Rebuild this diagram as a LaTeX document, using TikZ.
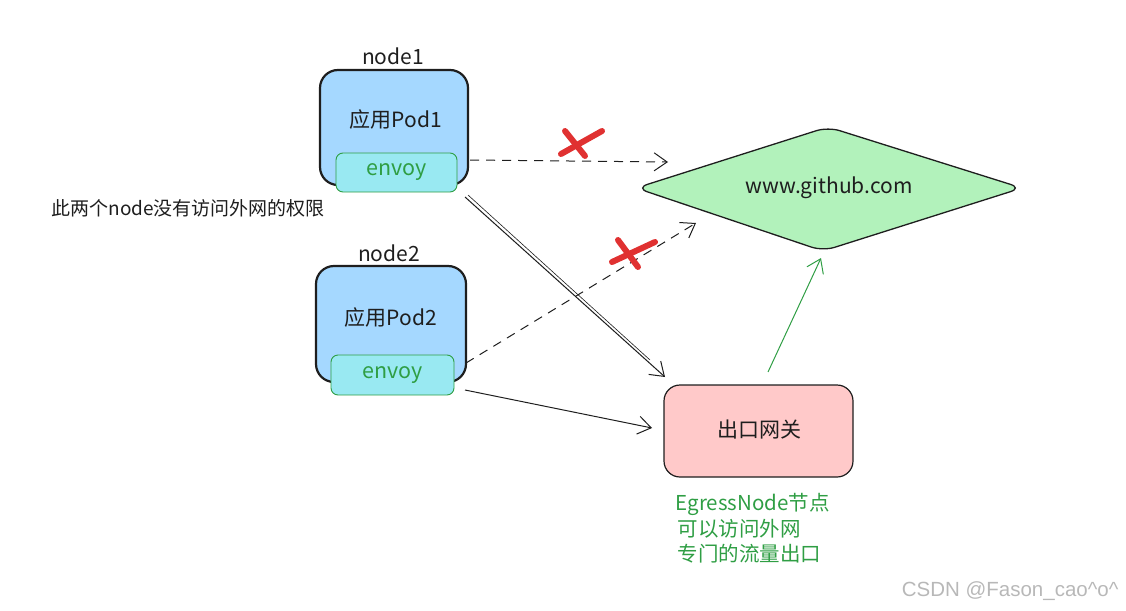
\documentclass[tikz,border=0pt]{standalone}
\usepackage{fontspec}
\setmainfont{Noto Sans CJK SC}
\newfontfamily\wmfont{Liberation Sans}
\usetikzlibrary{arrows.meta,shapes.geometric}
\definecolor{podblue}{HTML}{A5D8FF}
\definecolor{envoyfill}{HTML}{99E9F2}
\definecolor{envoygreen}{HTML}{2F9E44}
\definecolor{ghfill}{HTML}{B2F2BB}
\definecolor{gwfill}{HTML}{FFC9C9}
\definecolor{xred}{HTML}{E03131}
\definecolor{txt}{HTML}{1E1E1E}
\tikzset{
  podbox/.style={draw=txt, line width=2.2pt, fill=podblue, rounded corners=18pt},
  envoybox/.style={draw=envoygreen, line width=0.9pt, fill=envoyfill, rounded corners=7pt, text=envoygreen, font=\fontsize{21.5}{24}\selectfont},
  lbl/.style={text=txt, font=\fontsize{21}{24}\selectfont},
  conn/.style={draw=txt, line width=1pt, -{Straight Barb[length=13pt,width=18pt,line width=1pt]}},
  dconn/.style={conn, dash pattern=on 9pt off 7pt},
  xmark/.style={draw=xred, line width=6pt, line cap=round},
  gtext/.style={text=envoygreen, font=\fontsize{20.5}{24}\selectfont, anchor=west}
}
\begin{document}
\begin{tikzpicture}[x=1pt,y=-1pt]
\useasboundingbox (0,0) rectangle (1126,610);
% pods
\draw[podbox] (320,70) rectangle (468,185);
\node[lbl] (pod1) at (396,120) {应用Pod1};
\node[lbl] (n1) at (393,56) {node1};
\node[envoybox, minimum width=121pt, minimum height=39pt, inner sep=0pt] (env1) at (396.5,172.5) {envoy};

\draw[podbox] (316,266) rectangle (466,382);
\node[lbl] (pod2) at (391,318) {应用Pod2};
\node[lbl] (n2) at (389,253) {node2};
\node[envoybox, minimum width=123pt, minimum height=40pt, inner sep=0pt] (env2) at (392.5,375) {envoy};

% github diamond
\path[draw=txt, line width=1.3pt, fill=ghfill, rounded corners=12pt]
  (636,188) -- (828,127) -- (1022,188) -- (823,251) -- cycle;
\node[lbl] (gh) at (829,188) {www.github.com};

% gateway
\draw[draw=txt, line width=1.2pt, fill=gwfill, rounded corners=16pt] (664,385) rectangle (853,477);
\node[lbl] (gw) at (759,430) {出口网关};

% notes
\node[gtext] (g1) at (672,504) {EgressNode节点};
\node[gtext] (g2) at (674,529) {可以访问外网};
\node[gtext] (g3) at (674,554) {专门的流量出口};
\node[text=txt, font=\fontsize{19}{22}\selectfont, anchor=west] (note) at (48,208) {此两个node没有访问外网的权限};
\node[text=black!28, font=\wmfont\fontsize{20.5}{24}\selectfont, anchor=east] (wm) at (1122,591) {CSDN @Fason\_cao\^{}o\^{}};

% connectors
\coordinate (a1s) at (470,160);
\coordinate (a1e) at (668,162);
\draw[dconn] (a1s) -- (a1e);
\coordinate (a2s) at (466,363);
\coordinate (a2e) at (696,223);
\draw[dconn] (a2s) -- (a2e);
\coordinate (a3s) at (465,197);
\coordinate (a3e) at (665,377);
\draw[conn] (a3s) -- (a3e);
\draw[txt, line width=0.6pt] (468,195) -- (650,360);
\coordinate (a4s) at (465,390);
\coordinate (a4e) at (652,428);
\draw[conn] (a4s) -- (a4e);
\coordinate (a5s) at (768,372);
\coordinate (a5e) at (821,258);
\draw[conn, draw=envoygreen] (a5s) -- (a5e);

% red crosses
\draw[xmark] (565,131) -- (585,156);
\draw[xmark] (561,154) -- (602,131);
\draw[xmark] (618,240) -- (638,267);
\draw[xmark] (612,262) -- (655,242);
\end{tikzpicture}
\end{document}
